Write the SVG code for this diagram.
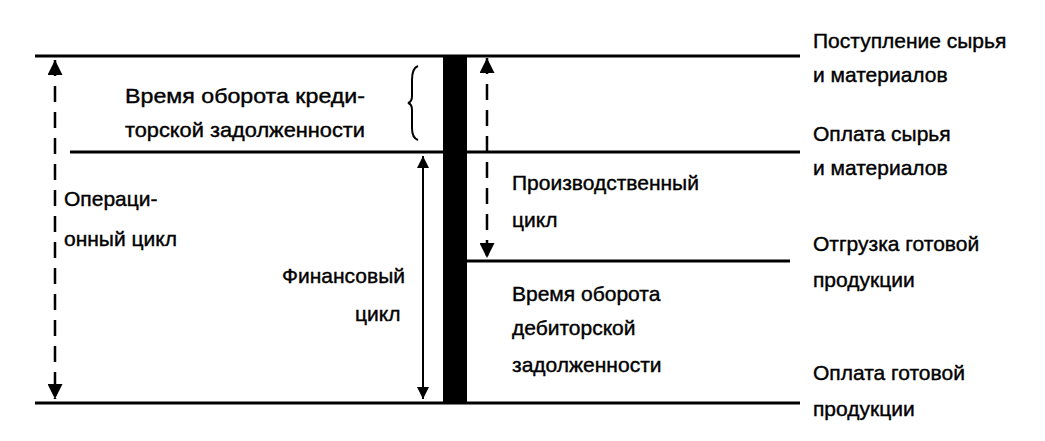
<svg xmlns="http://www.w3.org/2000/svg" width="1045" height="441" viewBox="0 0 1045 441">
<style>
text{font-family:"Liberation Sans",Arial,sans-serif;font-size:21px;fill:#000;stroke:#000;stroke-width:0.4}
.l{stroke:#000;stroke-width:3;fill:none}
.d{stroke:#000;stroke-width:2.5;fill:none;stroke-dasharray:16,10}
.s{stroke:#000;stroke-width:2;fill:none}
</style>
<defs>
<marker id="a" viewBox="0 0 10 10" refX="10" refY="5" markerWidth="7" markerHeight="6" orient="auto-start-reverse"><path d="M0,0 L10,5 L0,10 z" fill="#000"/></marker>
</defs>
<rect width="1045" height="441" fill="#fff"/>
<g id="connectors">
<line class="l" x1="35" y1="56" x2="800" y2="56"/>
<line class="l" x1="70" y1="152" x2="800" y2="152"/>
<line class="l" x1="467" y1="261" x2="790" y2="261"/>
<line class="l" x1="35" y1="403" x2="800" y2="403"/>
<rect x="443" y="55" width="24" height="348" fill="#000"/>
<line class="d" x1="55" y1="60" x2="55" y2="399" marker-start="url(#a)" marker-end="url(#a)"/>
<line class="s" x1="423" y1="156" x2="423" y2="399" marker-start="url(#a)" marker-end="url(#a)"/>
<line class="d" x1="487" y1="58" x2="487" y2="258" marker-start="url(#a)" marker-end="url(#a)"/>
<path class="s" d="M418,66 Q412,68 412,80 L412,96 Q412,102 408,103 Q412,104 412,110 L412,128 Q412,138 418,140"/>
</g>
<g id="labels">
<text x="125" y="103" textLength="240" lengthAdjust="spacingAndGlyphs">Время оборота креди-</text>
<text x="125" y="137" textLength="240" lengthAdjust="spacingAndGlyphs">торской задолженности</text>
<text x="64" y="206">Операци-</text>
<text x="64" y="246">онный цикл</text>
<text x="282" y="283">Финансовый</text>
<text x="355" y="321">цикл</text>
<text x="512" y="190">Производственный</text>
<text x="512" y="227">цикл</text>
<text x="512" y="301">Время оборота</text>
<text x="512" y="335">дебиторской</text>
<text x="512" y="372">задолженности</text>
<text x="813" y="48">Поступление сырья</text>
<text x="813" y="82">и материалов</text>
<text x="813" y="141">Оплата сырья</text>
<text x="813" y="175">и материалов</text>
<text x="813" y="251">Отгрузка готовой</text>
<text x="813" y="287">продукции</text>
<text x="813" y="380">Оплата готовой</text>
<text x="813" y="416">продукции</text>
</g>
</svg>
